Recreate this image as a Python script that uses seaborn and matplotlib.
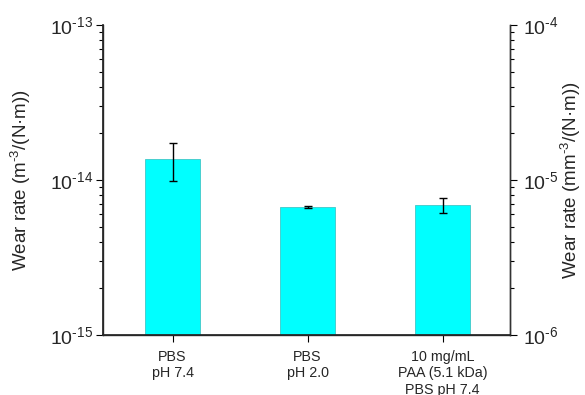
import matplotlib
matplotlib.use("Agg")
import matplotlib.pyplot as plt
import seaborn as sns
import pandas as pd
import numpy as np
from matplotlib.ticker import LogLocator, NullFormatter, FuncFormatter

# Wear rates measured in three lubricants
conditions = ["PBS\npH 7.4", "PBS\npH 2.0", "10 mg/mL\nPAA (5.1 kDa)\nPBS pH 7.4"]
wear_rate = [1.36e-14, 6.7e-15, 6.85e-15]
wear_err = [0.37e-14, 0.1e-15, 0.75e-15]

sns.set_theme(style="white")
plt.rcParams["font.family"] = ["Liberation Sans", "DejaVu Sans"]
plt.rcParams["mathtext.fontset"] = "custom"
plt.rcParams["mathtext.rm"] = "Liberation Sans"
plt.rcParams["mathtext.it"] = "Liberation Sans:italic"


def pow10(v, pos):
    e = int(round(np.log10(v)))
    return r"10$^{\text{%d}}$" % e


df = pd.DataFrame({"condition": conditions, "rate": wear_rate})

fig = plt.figure(figsize=(5.85, 3.95), dpi=100)
ax = fig.add_axes([0.176, 0.152, 0.696, 0.785])

sns.barplot(data=df, x="condition", y="rate", color="#00ffff", saturation=1,
            width=0.407, edgecolor="#40c8c8", linewidth=0.6, ax=ax)
ax.errorbar(np.arange(len(conditions)), wear_rate, yerr=wear_err, fmt="none",
            ecolor="black", elinewidth=1.0, capsize=3, capthick=1.0)

ax.set_yscale("log")
ax.set_ylim(1e-15, 1e-13)
ax.set_xlim(-0.515, 2.5)
ax.yaxis.set_major_locator(LogLocator(base=10, numticks=10))
ax.yaxis.set_major_formatter(FuncFormatter(pow10))
ax.yaxis.set_minor_locator(LogLocator(base=10, subs=np.arange(2, 10), numticks=20))
ax.yaxis.set_minor_formatter(NullFormatter())

ax.set_xlabel("")
ax.set_ylabel("Wear rate (m$^{\\text{-3}}$/(N·m))", fontsize=13.5)
ax.yaxis.set_label_coords(-0.172, 0.5)
ax.tick_params(axis="x", labelsize=10.3, direction="out", length=5, width=0.8,
               color="black", bottom=True, pad=6)
ax.tick_params(axis="y", which="major", labelsize=14, direction="out", length=5,
               width=0.8, color="black", left=True, pad=2)
ax.tick_params(axis="y", which="minor", direction="out", length=3, width=0.8,
               color="black", left=True)

for side in ["left", "right", "bottom"]:
    ax.spines[side].set_visible(True)
    ax.spines[side].set_color("#333333")
    ax.spines[side].set_linewidth(1.0)
ax.spines["top"].set_visible(False)

# Same data expressed in mm^3 units on the right-hand axis
ax2 = ax.twinx()
ax2.set_yscale("log")
ax2.set_ylim(1e-6, 1e-4)
ax2.yaxis.set_major_locator(LogLocator(base=10, numticks=10))
ax2.yaxis.set_major_formatter(FuncFormatter(pow10))
ax2.yaxis.set_minor_locator(LogLocator(base=10, subs=np.arange(2, 10), numticks=20))
ax2.yaxis.set_minor_formatter(NullFormatter())
ax2.set_ylabel("Wear rate (mm$^{\\text{-3}}$/(N·m))", fontsize=13.5)
ax2.yaxis.set_label_coords(1.12, 0.5)
ax2.tick_params(axis="y", which="major", labelsize=14, direction="out", length=5,
                width=0.8, color="black", right=True, pad=4)
ax2.tick_params(axis="y", which="minor", direction="out", length=3, width=0.8,
                color="black", right=True)
ax2.spines["top"].set_visible(False)
ax2.spines["right"].set_color("#333333")
ax2.spines["right"].set_linewidth(1.0)
ax2.grid(False)
ax.grid(False)

fig.savefig("out.png", dpi=100)
